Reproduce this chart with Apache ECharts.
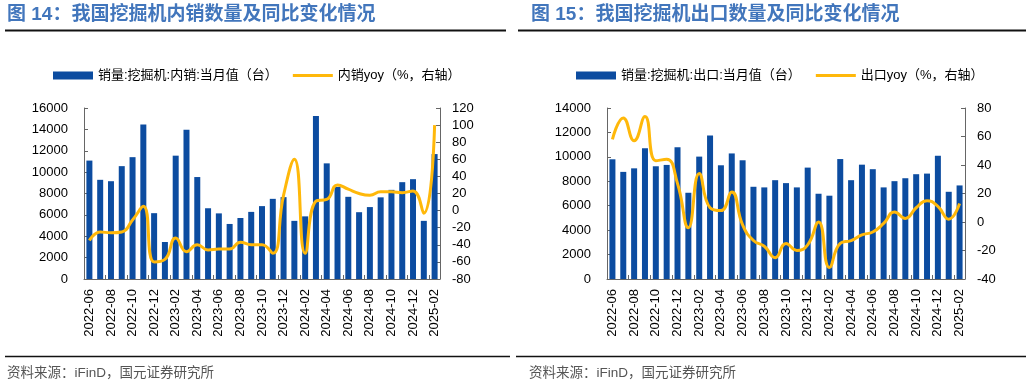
<!DOCTYPE html>
<html><head><meta charset="utf-8">
<script src="https://cdn.jsdelivr.net/npm/echarts@6/dist/echarts.min.js"></script>
<style>html,body{margin:0;padding:0;background:#fff}#c{width:1032px;height:386px}</style>
</head><body><div id="c"></div>
<script>
const months = ['2022-06','2022-07','2022-08','2022-09','2022-10','2022-11','2022-12',
  '2023-01','2023-02','2023-03','2023-04','2023-05','2023-06','2023-07','2023-08','2023-09','2023-10','2023-11','2023-12',
  '2024-01','2024-02','2024-03','2024-04','2024-05','2024-06','2024-07','2024-08','2024-09','2024-10','2024-11','2024-12',
  '2025-01','2025-02'];
const domesticSales = [11080,9280,9150,10560,11400,14450,6160,3460,11540,13960,
  9540,6620,6140,5150,5710,6280,6820,7500,7660,5440,
  5860,15240,10820,8620,7690,6250,6730,7640,8340,9060,
  9340,5440,11690];
const domesticYoy = [-35,-25,-26,-25,-11,5,-60,-57,-32,-48,
  -40,-46,-45,-45,-37,-40,-40,-50,18,60,
  -50,11,13,30,25,20,18,22,22,21,
  23,-3,100];
const exportSales = [9800,8770,9060,10710,9230,9340,10780,7060,10020,11750,
  9310,10280,9720,7550,7500,8090,7850,7500,9120,6980,
  6820,9820,8090,9360,8990,7500,8010,8250,8580,8630,
  10090,7140,7660];
const exportYoy = [58,73,57,74,43,44,27,-4,34,10,
  8,21,-2,-13,-17,-25,-15,-20,-16,0,
  -32,-15,-13,-9,-7,-1,7,2.5,10,15,
  11,2,13];
const titles = ['图 14：我国挖掘机内销数量及同比变化情况','图 15：我国挖掘机出口数量及同比变化情况'];
const barNames = ['销量:挖掘机:内销:当月值（台）','销量:挖掘机:出口:当月值（台）'];
const lineNames = ['内销yoy（%，右轴）','出口yoy（%，右轴）'];
const sourceText = '资料来源：iFinD，国元证券研究所';

const BLUE = '#0c4ca0', GOLD = '#ffb80a', AX = '#666';
const NUMF = "'Liberation Sans', Arial, sans-serif";
const CJKF = "'Liberation Sans', 'Noto Sans CJK SC', sans-serif";

function xAx(g){
  return {type:'category', gridIndex:g, data:months,
    axisLine:{onZero:false, lineStyle:{color:AX,width:1}},
    axisTick:{show:true, inside:true, length:4, interval:1, alignWithLabel:false, lineStyle:{color:AX}},
    axisLabel:{interval:1, rotate:90, margin:10, fontSize:13, color:'#000', fontFamily:NUMF},
    splitLine:{show:false}};
}
function yAx(g,pos,min,max,interval,margin){
  return {type:'value', gridIndex:g, position:pos, min:min, max:max, interval:interval,
    axisLine:{show:true, lineStyle:{color:AX,width:1}},
    axisTick:{show:true, inside:true, length:4, lineStyle:{color:AX}},
    axisLabel:{margin:margin, fontSize:13, color:'#000', fontFamily:NUMF, formatter:v=>String(v)},
    splitLine:{show:false}};
}
function legend(i,left){
  return {left:left, top:64, itemWidth:40, itemHeight:8, itemGap:15,
    data:[{name:barNames[i], icon:'rect'}, {name:lineNames[i], icon:'path://M0 0H40V3H0Z'}],
    textStyle:{fontSize:13, color:'#000', fontFamily:CJKF}};
}
const option = {
  animation:false,
  backgroundColor:'#fff',
  title: titles.map((t,i)=>({text:t, left: i===0?7:531, top:5, padding:0,
    textStyle:{fontSize:19, fontWeight:'bold', color:'#4276bc', fontFamily:"'Liberation Sans','Noto Sans CJK SC',sans-serif"}})),
  legend:[legend(0,48), legend(1,571)],
  grid:[
    {left:84, top:108, width:356, height:171, outerBoundsMode:'none'},
    {left:607, top:108, width:358, height:171, outerBoundsMode:'none'}
  ],
  xAxis:[xAx(0), xAx(1)],
  yAxis:[
    yAx(0,'left',0,16000,2000,16),
    yAx(0,'right',-80,120,20,12),
    yAx(1,'left',0,14000,2000,16),
    yAx(1,'right',-40,80,20,12)
  ],
  series:[
    {name:barNames[0], type:'bar', xAxisIndex:0, yAxisIndex:0, data:domesticSales, barWidth:6, itemStyle:{color:BLUE}},
    {name:lineNames[0], type:'line', xAxisIndex:0, yAxisIndex:1, data:domesticYoy, smooth:true, symbol:'none', lineStyle:{color:GOLD,width:3}, itemStyle:{color:GOLD}},
    {name:barNames[1], type:'bar', xAxisIndex:1, yAxisIndex:2, data:exportSales, barWidth:6, itemStyle:{color:BLUE}},
    {name:lineNames[1], type:'line', xAxisIndex:1, yAxisIndex:3, data:exportYoy, smooth:true, symbol:'none', lineStyle:{color:GOLD,width:3}, itemStyle:{color:GOLD}}
  ],
  graphic:[
    {type:'line', shape:{x1:5,y1:30.5,x2:506,y2:30.5}, style:{stroke:'#111',lineWidth:2}},
    {type:'line', shape:{x1:518,y1:30.5,x2:1026,y2:30.5}, style:{stroke:'#111',lineWidth:2}},
    {type:'line', shape:{x1:5,y1:356.5,x2:510,y2:356.5}, style:{stroke:'#111',lineWidth:1.5}},
    {type:'line', shape:{x1:516,y1:356.5,x2:1026,y2:356.5}, style:{stroke:'#111',lineWidth:1.5}},
    {type:'text', left:7, top:367, style:{text:sourceText, fontSize:13.5, fill:'#555', fontFamily:CJKF}},
    {type:'text', left:529, top:367, style:{text:sourceText, fontSize:13.5, fill:'#555', fontFamily:CJKF}}
  ]
};
const chart = echarts.init(document.getElementById('c'), null, {renderer:'canvas'});
chart.setOption(option);
</script>
</body></html>
